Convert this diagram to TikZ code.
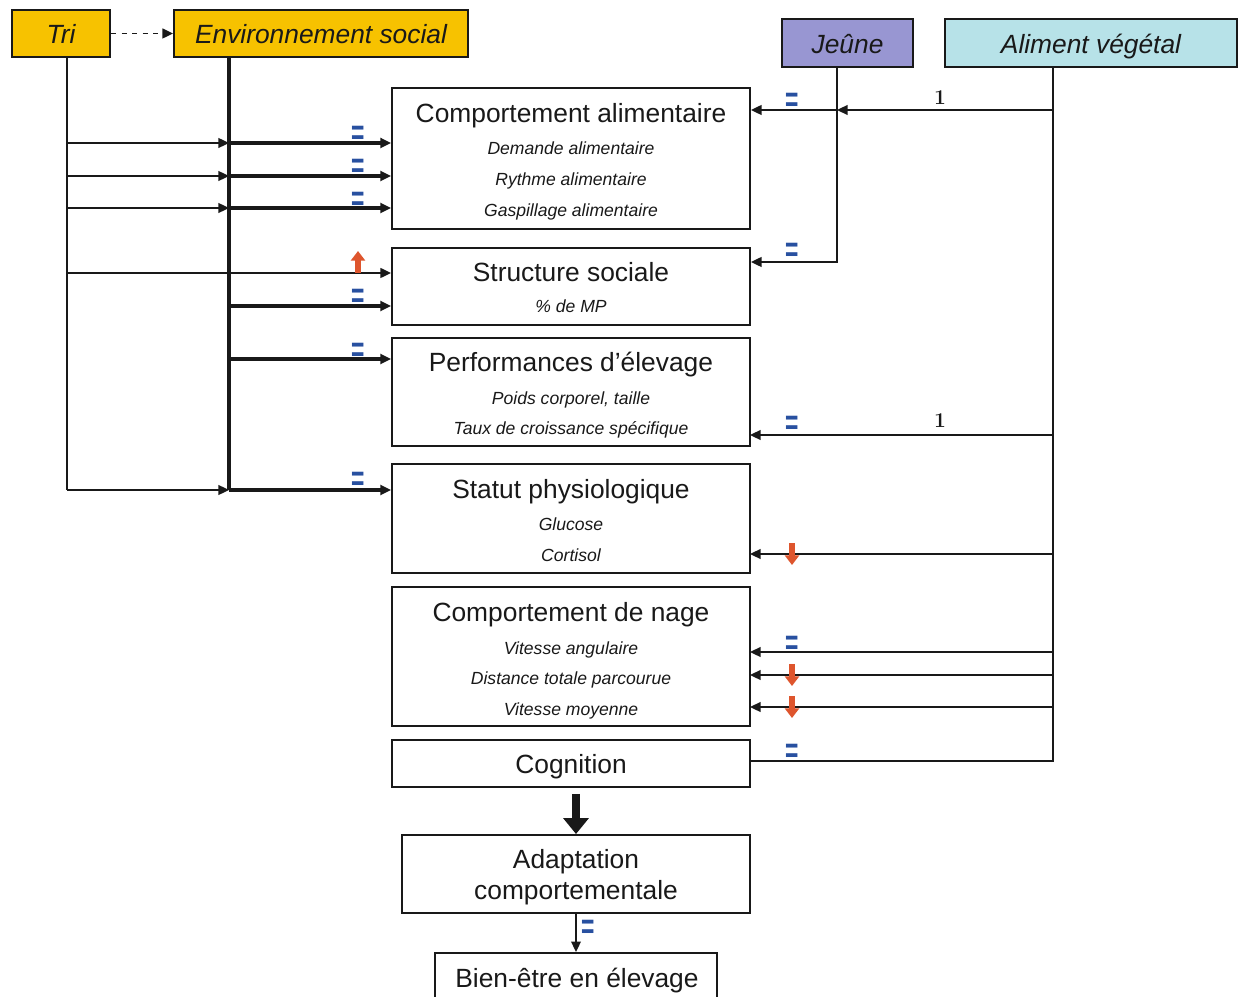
\documentclass[tikz,border=0pt]{standalone}
\usepackage{fontspec}
\usepackage{graphicx}
\setsansfont{Liberation Sans}
\usetikzlibrary{arrows.meta,fit}
\definecolor{gold}{RGB}{247,194,0}
\definecolor{lilac}{RGB}{152,150,210}
\definecolor{aqua}{RGB}{183,226,232}
\definecolor{eqblue}{RGB}{40,80,160}
\definecolor{redarr}{RGB}{222,85,45}
\definecolor{ink}{RGB}{25,25,25}
\begin{document}
\begin{tikzpicture}[x=0.02cm,y=-0.02cm,
 box/.style={draw=ink,line width=1.1pt,inner sep=0pt},
 title/.style={font=\sffamily\fontsize{15}{18}\selectfont,text=ink,text height=10.8pt,text depth=2.8pt,yshift=-0.05cm},
 sub/.style={font=\sffamily\itshape\fontsize{10}{12}\selectfont,text=ink,text height=7.2pt,text depth=1.9pt,yshift=-0.04cm},
 top/.style={font=\sffamily\itshape\fontsize{15}{18}\selectfont,text=ink,text height=10.8pt,text depth=2.8pt,yshift=-0.06cm},
 ln/.style={draw=ink,line width=1.1pt},
 thk/.style={draw=ink,line width=2.2pt},
 tip/.style={-{Triangle[length=6pt,width=5.5pt]}},
 eq/.style={text=eqblue,font=\sffamily\bfseries\fontsize{20}{20}\selectfont,inner sep=0pt,text height=4pt,text depth=0pt,yshift=-0.16cm},
 one/.style={font=\bfseries\fontsize{12}{12}\selectfont,inner sep=0pt,text=ink},
 redup/.style={draw=redarr,line width=3.4pt,-{Triangle[length=5.5pt,width=8pt]}}
]
\clip (0,0) rectangle (1239,996);
\fill[white] (0,0) rectangle (1239,996);

% top boxes
\node[box,fill=gold,fit={(12,10)(110,57)}] (tri) {};
\node[top] at (tri.center) {Tri};
\node[box,fill=gold,fit={(174,10)(468,57)}] (env) {};
\node[top] at (env.center) {Environnement social};
\node[box,fill=lilac,fit={(782,19)(913,67)}] (jeu) {};
\node[top] at (jeu.center) {Jeûne};
\node[box,fill=aqua,fit={(945,19)(1237,67)}] (ali) {};
\node[top] at (ali.center) {Aliment végétal};

% main boxes
\node[box,fit={(392,88)(750,229)}] (ca) {};
\node[title] at (571,113) {Comportement alimentaire};
\node[sub] at (571,148) {Demande alimentaire};
\node[sub] at (571,179) {Rythme alimentaire};
\node[sub] at (571,210) {Gaspillage alimentaire};

\node[box,fit={(392,248)(750,325)}] (ss) {};
\node[title] at (571,272) {Structure sociale};
\node[sub] at (571,306) {\% de MP};

\node[box,fit={(392,338)(750,446)}] (pe) {};
\node[title] at (571,362) {Performances d’élevage};
\node[sub] at (571,398) {Poids corporel, taille};
\node[sub] at (571,428) {Taux de croissance spécifique};

\node[box,fit={(392,464)(750,573)}] (sp) {};
\node[title] at (571,489) {Statut physiologique};
\node[sub] at (571,524) {Glucose};
\node[sub] at (571,555) {Cortisol};

\node[box,fit={(392,587)(750,726)}] (cn) {};
\node[title] at (571,612) {Comportement de nage};
\node[sub] at (571,648) {Vitesse angulaire};
\node[sub] at (571,678) {Distance totale parcourue};
\node[sub] at (571,709) {Vitesse moyenne};

\node[box,fit={(392,740)(750,787)}] (cog) {};
\node[title] at (cog.center) {Cognition};

\node[box,fit={(402,835)(750,913)}] (ad) {};
\node[font=\sffamily\fontsize{15}{18}\selectfont,text=ink,align=center] at ([yshift=-0.06cm]ad.center) {Adaptation\\comportementale};

\node[box,fit={(435,953)(717,1010)}] (be) {};
\node[title] at (577,978) {Bien-être en élevage};

% Tri -> Env dashed
\draw[ln,dashed,tip] (tri.east) -- (env.west);

% left verticals
\coordinate (tv) at (67,490);
\coordinate (ev) at (229,490);
\draw[ln] (tri.south -| tv) -- (tv);
\draw[thk,line width=2.6pt] (env.south -| ev) -- (ev);

\foreach \yy in {143,176,208} {
  \draw[ln,tip] (67,\yy) -- (229,\yy);
  \draw[thk,tip] (229,\yy) -- (ca.west |- 0,\yy);
}
\draw[ln,tip] (67,273) -- (ss.west |- 0,273);
\draw[thk,tip] (229,306) -- (ss.west |- 0,306);
\draw[thk,tip] (229,359) -- (pe.west |- 0,359);
\draw[ln,tip] (tv) -- (ev);
\draw[thk,tip] (ev) -- (sp.west |- ev);

% right side
\coordinate (av) at (1053,761);
\coordinate (jv) at (837,262);
\draw[ln] (ali.south -| av) -- (av) -- (cog.east |- av);
\draw[ln,tip] (jeu.south -| jv) -- (jv) -- (ss.east |- jv);
\draw[ln,tip] (1053,110) -- (837,110);
\draw[ln,tip] (837,110) -- (ca.east |- 0,110);
\foreach \yy in {435,554,652,675,707} {
  \draw[ln,tip] (1053,\yy) -- (750,\yy);
}

% bottom arrows
\draw[draw=ink,line width=4.5pt,-{Triangle[length=9pt,width=14pt]}] ([yshift=-0.12cm]ad.north |- cog.south) -- (ad.north);
\draw[ln,line width=0.9pt,tip] (ad.south) -- (be.north);

% = markers
\foreach \xx/\yy in {358/133,358/166,358/199,358/296,358/350,358/479,792/100,792/250,792/423,792/643,792/751,588/927} {
  \node[eq] at (\xx,\yy) {\scalebox{0.65}[1]{=}};
}
% red arrows
\draw[redup] (358,273) -- (358,251);
\foreach \yy in {554,675,707} {
  \draw[redup] (792,\yy-11) -- (792,\yy+11);
}
% 1 labels
\node[one] at (940,98) {1};
\node[one] at (940,421) {1};
\end{tikzpicture}
\end{document}
